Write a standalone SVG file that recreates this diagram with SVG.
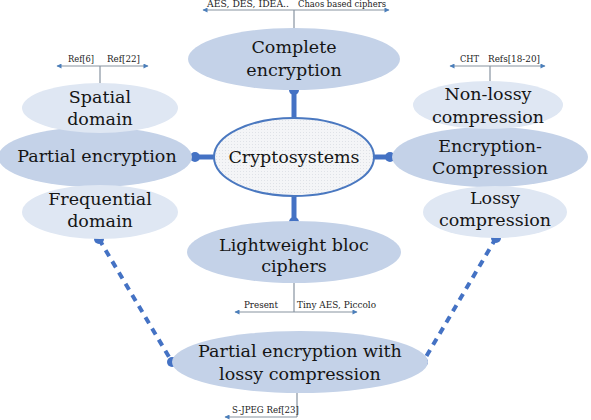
<svg xmlns="http://www.w3.org/2000/svg" width="591" height="420" viewBox="0 0 591 420">
<defs>
<marker id="ah" viewBox="0 0 10 10" refX="9" refY="5" markerWidth="7" markerHeight="5" orient="auto-start-reverse" markerUnits="userSpaceOnUse">
<path d="M0,0 L10,5 L0,10 z" fill="#4a7ebb"/>
</marker>
<pattern id="dots" width="3" height="3" patternUnits="userSpaceOnUse">
<rect width="3" height="3" fill="#f4f5f7"/>
<rect width="1" height="1" fill="#dfe2e7"/>
</pattern>
</defs>
<style>
.big{font-family:"DejaVu Serif","Liberation Serif",serif;font-size:17.5px;fill:#151515;text-anchor:middle}
.sm{font-family:"DejaVu Serif","Liberation Serif",serif;font-size:8.5px;fill:#222}
.e1{fill:#c4d2e8}
.e2{fill:#dfe7f3}
.thick{stroke:#4472c4;stroke-width:5;fill:none}
.dash{stroke:#4472c4;stroke-width:4;fill:none;stroke-dasharray:7 6}
.dot{fill:#4472c4}
.tree{stroke:#8793a0;stroke-width:1.2;fill:none}
.harr{stroke:#8793a0;stroke-width:1.2;fill:none;marker-start:url(#ah);marker-end:url(#ah)}
</style>
<rect width="591" height="420" fill="#ffffff"/>

<g id="connectors">
<line class="thick" x1="294" y1="90" x2="294" y2="118"/>
<circle class="dot" cx="294" cy="90" r="5"/>
<line class="thick" x1="195" y1="157" x2="214" y2="157"/>
<circle class="dot" cx="195" cy="157" r="5"/>
<line class="thick" x1="374" y1="157" x2="390" y2="157"/>
<circle class="dot" cx="390" cy="157" r="5"/>
<line class="thick" x1="294" y1="196" x2="294" y2="222"/>
<circle class="dot" cx="294" cy="222" r="5"/>
<line class="dash" x1="99" y1="239" x2="172" y2="362"/>
<circle class="dot" cx="99" cy="239" r="5"/>
<circle class="dot" cx="172" cy="362" r="5"/>
<line class="dash" x1="496" y1="238" x2="423" y2="362"/>
<circle class="dot" cx="496" cy="238" r="5"/>
<circle class="dot" cx="423" cy="362" r="5"/>
</g>

<g id="tree-complete">
<line class="tree" x1="294" y1="10" x2="294" y2="28"/>
<line class="harr" x1="203" y1="10" x2="389" y2="10"/>
<text class="sm" x="207" y="7" textLength="82" lengthAdjust="spacingAndGlyphs">AES, DES, IDEA..</text>
<text class="sm" x="298" y="7" textLength="88" lengthAdjust="spacingAndGlyphs">Chaos based ciphers</text>
</g>
<g id="tree-spatial">
<line class="tree" x1="100" y1="66" x2="100" y2="83"/>
<line class="harr" x1="57" y1="66" x2="148" y2="66"/>
<text class="sm" x="68" y="62" textLength="26" lengthAdjust="spacingAndGlyphs">Ref[6]</text>
<text class="sm" x="107" y="62" textLength="33" lengthAdjust="spacingAndGlyphs">Ref[22]</text>
</g>
<g id="tree-nonlossy">
<line class="tree" x1="490" y1="66" x2="490" y2="82"/>
<line class="harr" x1="450" y1="66" x2="545" y2="66"/>
<text class="sm" x="460" y="62" textLength="19" lengthAdjust="spacingAndGlyphs">CHT</text>
<text class="sm" x="488" y="62" textLength="52" lengthAdjust="spacingAndGlyphs">Refs[18-20]</text>
</g>
<g id="tree-lightweight">
<line class="tree" x1="294" y1="283" x2="294" y2="312"/>
<line class="harr" x1="235" y1="312" x2="357" y2="312"/>
<text class="sm" x="244" y="308" textLength="34" lengthAdjust="spacingAndGlyphs">Present</text>
<text class="sm" x="297" y="308" textLength="79" lengthAdjust="spacingAndGlyphs">Tiny AES, Piccolo</text>
</g>
<g id="tree-partial-lossy">
<line class="tree" x1="297" y1="393" x2="297" y2="417"/>
<line class="tree" x1="225" y1="417" x2="297" y2="417" style="marker-start:url(#ah)"/>
<text class="sm" x="232" y="413" textLength="67" lengthAdjust="spacingAndGlyphs">S-JPEG Ref[23]</text>
</g>

<g id="partial-encryption">
<ellipse class="e1" cx="95" cy="157" rx="97" ry="30"/>
<text class="big" x="97" y="162">Partial encryption</text>
</g>
<g id="spatial-domain">
<ellipse class="e2" cx="100" cy="108" rx="78" ry="25"/>
<text class="big" x="100" y="103">Spatial</text>
<text class="big" x="100" y="125">domain</text>
</g>
<g id="frequential-domain">
<ellipse class="e2" cx="100" cy="212" rx="78" ry="27"/>
<text class="big" x="100" y="205">Frequential</text>
<text class="big" x="100" y="227">domain</text>
</g>

<g id="encryption-compression">
<ellipse class="e1" cx="490" cy="157" rx="98" ry="30"/>
<text class="big" x="490" y="152">Encryption-</text>
<text class="big" x="490" y="174">Compression</text>
</g>
<g id="non-lossy">
<ellipse class="e2" cx="488" cy="105" rx="75" ry="24"/>
<text class="big" x="488" y="100">Non-lossy</text>
<text class="big" x="488" y="123">compression</text>
</g>
<g id="lossy">
<ellipse class="e2" cx="495" cy="212" rx="72" ry="26"/>
<text class="big" x="495" y="204">Lossy</text>
<text class="big" x="495" y="226">compression</text>
</g>

<g id="complete-encryption">
<ellipse class="e1" cx="294" cy="59" rx="106" ry="31"/>
<text class="big" x="294" y="53">Complete</text>
<text class="big" x="294" y="76">encryption</text>
</g>
<g id="cryptosystems">
<ellipse cx="294" cy="157" rx="80" ry="39" fill="url(#dots)" stroke="#4a78c0" stroke-width="2"/>
<text class="big" x="294" y="163">Cryptosystems</text>
</g>
<g id="lightweight">
<ellipse class="e1" cx="294" cy="252" rx="107" ry="31"/>
<text class="big" x="294" y="251">Lightweight bloc</text>
<text class="big" x="294" y="272">ciphers</text>
</g>
<g id="partial-lossy">
<ellipse class="e1" cx="300" cy="362" rx="128" ry="31"/>
<text class="big" x="300" y="357">Partial encryption with</text>
<text class="big" x="300" y="380">lossy compression</text>
</g>
</svg>
